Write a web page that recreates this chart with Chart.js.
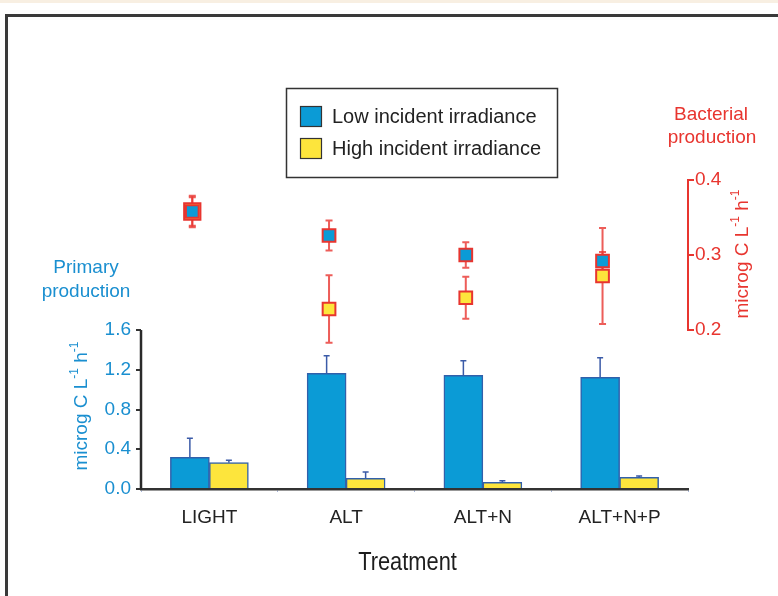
<!DOCTYPE html>
<html>
<head>
<meta charset="utf-8">
<script src="https://cdn.jsdelivr.net/npm/chart.js@4.4.1/dist/chart.umd.min.js"></script>
<style>
  html, body { margin: 0; padding: 0; background: #fff; }
  body { width: 778px; height: 596px; position: relative; overflow: hidden; }
  .topStrip { position: absolute; left: 0; top: 0; width: 778px; height: 3px; background: #f8efe2; }
  .frame { position: absolute; left: 5px; top: 14px; width: 900px; height: 700px; border: 3px solid #3a3a3a; }
  #chartProduction { position: absolute; left: 0; top: 0; }
</style>
</head>
<body>
<div class="topStrip"></div>
<div class="frame"></div>
<canvas id="chartProduction" width="778" height="596"></canvas>
<script>
// treatments and series
const treatments = ['LIGHT', 'ALT', 'ALT+N', 'ALT+N+P'];
const seriesNames = ['Low incident irradiance', 'High incident irradiance'];

// primary production (bars), microg C L-1 h-1
const primaryLow = [0.32, 1.165, 1.145, 1.125];
const primaryLowErr = [0.19, 0.175, 0.145, 0.195];
const primaryHigh = [0.265, 0.108, 0.067, 0.118];
const primaryHighErr = [0.025, 0.063, 0.016, 0.012];

// bacterial production (squares), microg C L-1 h-1
const bacterialLow = [0.358, 0.326, 0.300, 0.292];
const bacterialLowErr = [0.019, 0.020, 0.017, 0.012];
const bacterialHigh = [0.358, 0.228, 0.243, 0.272];
const bacterialHighErr = [0.021, 0.045, 0.028, 0.064];

const primaryTicks = [0, 0.4, 0.8, 1.2, 1.6];
const bacterialTicks = [0.2, 0.3, 0.4];

const BLUE = '#0b9bd6';
const YELLOW = '#fde53c';
const BAR_EDGE = '#3160ab';
const TXT_BLUE = '#1a8fd0';
const TXT_RED = '#e8352f';
const FONT = '"Liberation Sans", Arial, sans-serif';

Chart.defaults.font.family = FONT;

// text with superscript pieces, rotated to read bottom-up
function drawRotatedUnit(ctx, cx, cy, color) {
    const parts = [
        { t: 'microg C L', sup: false },
        { t: '-1', sup: true },
        { t: ' h', sup: false },
        { t: '-1', sup: true }
    ];
    ctx.save();
    ctx.translate(cx, cy);
    ctx.rotate(-Math.PI / 2);
    ctx.fillStyle = color;
    ctx.textBaseline = 'middle';
    ctx.textAlign = 'left';
    let total = 0;
    parts.forEach(p => {
        ctx.font = (p.sup ? '12px ' : '19px ') + FONT;
        p.w = ctx.measureText(p.t).width;
        total += p.w;
    });
    let x = -total / 2;
    parts.forEach(p => {
        ctx.font = (p.sup ? '12px ' : '19px ') + FONT;
        ctx.fillText(p.t, x, p.sup ? -7 : 0);
        x += p.w;
    });
    ctx.restore();
}

function errorBar(ctx, x, yFrom, yTo, cap) {
    ctx.beginPath();
    ctx.moveTo(x, yFrom);
    ctx.lineTo(x, yTo);
    ctx.moveTo(x - cap, yTo);
    ctx.lineTo(x + cap, yTo);
    ctx.stroke();
}

const decorations = {
    id: 'decorations',
    beforeDatasetsDraw(chart) {
        // bacterial error bars go behind the squares
        const ctx = chart.ctx;
        const yr = chart.scales.yr;
        ctx.save();
        ctx.strokeStyle = 'rgba(232,53,47,0.8)';
        ctx.lineWidth = 2;
        [[1, bacterialHigh, bacterialHighErr], [0, bacterialLow, bacterialLowErr]].forEach(([idx, vals, errs]) => {
            chart.getDatasetMeta(idx).data.forEach((pt, i) => {
                const top = yr.getPixelForValue(vals[i] + errs[i]);
                const bottom = yr.getPixelForValue(vals[i] - errs[i]);
                errorBar(ctx, pt.x, pt.y, top, 3.5);
                errorBar(ctx, pt.x, pt.y, bottom, 3.5);
            });
        });
        ctx.restore();
    },
    afterDatasetsDraw(chart) {
        // upper error bars on the primary production bars
        const ctx = chart.ctx;
        const y = chart.scales.y;
        ctx.save();
        ctx.strokeStyle = '#3b5ba8';
        ctx.lineWidth = 1.5;
        [[2, primaryLow, primaryLowErr], [3, primaryHigh, primaryHighErr]].forEach(([idx, vals, errs]) => {
            chart.getDatasetMeta(idx).data.forEach((bar, i) => {
                errorBar(ctx, bar.x, bar.y, y.getPixelForValue(vals[i] + errs[i]), 3);
            });
        });
        ctx.restore();
    },
    afterDraw(chart) {
        const ctx = chart.ctx;
        const area = chart.chartArea;
        const y = chart.scales.y, yr = chart.scales.yr;
        ctx.save();

        // axis lines only over the labelled ranges
        ctx.lineWidth = 2.5;
        ctx.strokeStyle = '#2a2a2a';
        ctx.beginPath();
        ctx.moveTo(area.left, y.getPixelForValue(primaryTicks[0]) + 1);
        ctx.lineTo(area.left, y.getPixelForValue(primaryTicks[primaryTicks.length - 1]));
        ctx.stroke();
        ctx.lineWidth = 2;
        ctx.strokeStyle = TXT_RED;
        ctx.beginPath();
        ctx.moveTo(area.right, yr.getPixelForValue(bacterialTicks[0]) + 1);
        ctx.lineTo(area.right, yr.getPixelForValue(bacterialTicks[bacterialTicks.length - 1]) - 1);
        ctx.stroke();

        // axis captions
        ctx.textAlign = 'center';
        ctx.textBaseline = 'alphabetic';
        ctx.font = '19px ' + FONT;
        ctx.fillStyle = TXT_BLUE;
        ctx.fillText('Primary', 86, 273);
        ctx.fillText('production', 86, 297);
        ctx.fillStyle = TXT_RED;
        ctx.fillText('Bacterial', 711, 120);
        ctx.fillText('production', 712, 143);
        drawRotatedUnit(ctx, 82, 406, TXT_BLUE);
        drawRotatedUnit(ctx, 743, 254, TXT_RED);

        // condensed x axis title
        ctx.save();
        ctx.translate((area.left + area.right) / 2 - 7, 570);
        ctx.scale(0.84, 1);
        ctx.font = '26px ' + FONT;
        ctx.fillStyle = '#1e1e1e';
        ctx.fillText('Treatment', 0, 0);
        ctx.restore();

        // legend box
        const bars = [chart.data.datasets[2], chart.data.datasets[3]];
        ctx.lineWidth = 1.5;
        ctx.strokeStyle = '#333';
        ctx.strokeRect(286.5, 88.5, 271, 89);
        ctx.textAlign = 'left';
        ctx.textBaseline = 'middle';
        ctx.font = '20px ' + FONT;
        bars.forEach((ds, i) => {
            const top = 106 + i * 32;
            ctx.fillStyle = ds.backgroundColor;
            ctx.fillRect(300, top, 22, 21);
            ctx.lineWidth = 1.2;
            ctx.strokeStyle = '#333';
            ctx.strokeRect(300.5, top + 0.5, 21, 20);
            ctx.fillStyle = '#222';
            ctx.fillText(ds.label, 332, top + 11);
        });
        ctx.restore();
    }
};

const chartProduction = new Chart(document.getElementById('chartProduction'), {
    type: 'bar',
    data: {
        labels: treatments,
        datasets: [
            {
                type: 'scatter',
                label: seriesNames[0],
                data: bacterialLow.map((v, i) => ({ x: i, y: v })),
                xAxisID: 'xb',
                yAxisID: 'yr',
                order: 0,
                pointStyle: 'rect',
                pointRadius: 9,
                backgroundColor: BLUE,
                borderColor: TXT_RED,
                borderWidth: 2
            },
            {
                type: 'scatter',
                label: seriesNames[1],
                data: bacterialHigh.map((v, i) => ({ x: i, y: v })),
                xAxisID: 'xb',
                yAxisID: 'yr',
                order: 1,
                pointStyle: 'rect',
                pointRadius: [11.5, 9, 9, 9],
                backgroundColor: YELLOW,
                borderColor: TXT_RED,
                borderWidth: 2
            },
            {
                label: seriesNames[0],
                data: primaryLow,
                xAxisID: 'x',
                yAxisID: 'y',
                order: 2,
                barThickness: 39,
                backgroundColor: BLUE,
                borderColor: BAR_EDGE,
                borderWidth: 1.5
            },
            {
                label: seriesNames[1],
                data: primaryHigh,
                xAxisID: 'x',
                yAxisID: 'y',
                order: 3,
                barThickness: 39,
                backgroundColor: YELLOW,
                borderColor: BAR_EDGE,
                borderWidth: 1.5
            }
        ]
    },
    options: {
        responsive: false,
        animation: false,
        devicePixelRatio: 1,
        events: [],
        layout: { padding: { top: 180, left: 0, right: 0, bottom: 0 } },
        plugins: {
            legend: { display: false },
            tooltip: { enabled: false }
        },
        scales: {
            x: {
                type: 'category',
                position: 'bottom',
                offset: true,
                grid: { offset: true, drawOnChartArea: false, tickLength: 3, color: '#a9b8dc' },
                border: { display: true, color: '#333', width: 2.5 },
                ticks: { color: '#222', font: { size: 19 }, padding: 14, maxRotation: 0 },
                afterFit: s => { s.height = 107; }
            },
            // squares sit a little left of each category centre
            xb: { type: 'linear', display: false, offset: false, min: -0.375, max: 3.625 },
            y: {
                position: 'left',
                min: 0,
                max: 3.11,
                afterBuildTicks: s => { s.ticks = primaryTicks.map(v => ({ value: v })); },
                grid: { drawOnChartArea: false, tickLength: 5, color: '#333', lineWidth: 2 },
                border: { display: false },
                ticks: { color: TXT_BLUE, font: { size: 19 }, padding: 5, callback: v => v.toFixed(1) },
                afterFit: s => { s.width = 141; }
            },
            yr: {
                position: 'right',
                min: -0.012,
                max: 0.4,
                afterBuildTicks: s => { s.ticks = bacterialTicks.map(v => ({ value: v })); },
                grid: { drawOnChartArea: false, tickLength: 6, color: TXT_RED, lineWidth: 2 },
                border: { display: false },
                ticks: { color: TXT_RED, font: { size: 19 }, padding: 1, callback: v => v.toFixed(1) },
                afterFit: s => { s.width = 90; }
            }
        }
    },
    plugins: [decorations]
});
</script>
</body>
</html>
